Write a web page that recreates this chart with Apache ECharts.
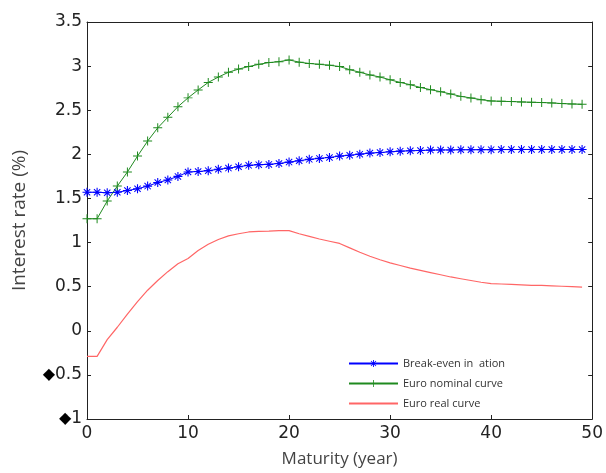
<!DOCTYPE html>
<html>
<head>
<meta charset="utf-8">
<script src="https://cdn.jsdelivr.net/npm/echarts@6/dist/echarts.min.js"></script>
<style>html,body{margin:0;padding:0;background:#fff;}#c{width:606px;height:473px;}</style>
</head>
<body>
<div id="c"></div>
<script>
const years = [0,1,2,3,4,5,6,7,8,9,10,11,12,13,14,15,16,17,18,19,20,21,22,23,24,25,26,27,28,29,30,31,32,33,34,35,36,37,38,39,40,41,42,43,44,45,46,47,48,49];
const breakEven = [1.57,1.57,1.565,1.57,1.59,1.61,1.64,1.68,1.71,1.75,1.80,1.805,1.815,1.83,1.844,1.86,1.875,1.883,1.886,1.897,1.912,1.928,1.943,1.954,1.965,1.98,1.99,2.002,2.014,2.02,2.029,2.036,2.04,2.044,2.048,2.05,2.05,2.052,2.052,2.053,2.053,2.054,2.054,2.055,2.055,2.055,2.055,2.055,2.055,2.055];
const nominal = [1.27,1.27,1.47,1.64,1.80,1.98,2.15,2.30,2.42,2.54,2.64,2.73,2.815,2.876,2.93,2.966,2.995,3.02,3.04,3.05,3.07,3.045,3.03,3.02,3.01,2.995,2.96,2.93,2.90,2.876,2.845,2.815,2.789,2.758,2.733,2.71,2.684,2.657,2.639,2.62,2.605,2.601,2.598,2.594,2.59,2.587,2.583,2.575,2.571,2.567];
const real = [-0.29,-0.29,-0.1,0.04,0.19,0.33,0.46,0.57,0.67,0.76,0.82,0.91,0.98,1.035,1.075,1.10,1.12,1.127,1.13,1.135,1.135,1.10,1.07,1.04,1.015,0.99,0.94,0.89,0.845,0.805,0.77,0.74,0.71,0.685,0.66,0.635,0.61,0.59,0.57,0.55,0.535,0.53,0.525,0.52,0.515,0.515,0.51,0.505,0.5,0.495];
const seriesNames = ['Break-even in  ation','Euro nominal curve','Euro real curve'];
const xTicks = {min:0,max:50,interval:10};
const yTicks = {min:-1,max:3.5,interval:0.5};

const pair = arr => years.map((x,i)=>[x,arr[i]]);
const asterisk = 'path://M-0.6,-5L0.6,-5L0.6,5L-0.6,5Z M-5,-0.6L5,-0.6L5,0.6L-5,0.6Z M-3.9,-3.1L-3.1,-3.9L3.9,3.1L3.1,3.9Z M3.1,-3.9L3.9,-3.1L-3.1,3.9L-3.9,3.1Z';
const plus = 'path://M-0.55,-5L0.55,-5L0.55,5L-0.55,5Z M-5,-0.55L5,-0.55L5,0.55L-5,0.55Z';
const font = 'DejaVu Sans';
const axisLine = {show:true,onZero:false,lineStyle:{color:'#222',width:1}};
const tick = {show:true,inside:true,length:4,lineStyle:{color:'#222',width:1}};

const chart = echarts.init(document.getElementById('c'));
chart.setOption({
  animation:false,
  backgroundColor:'#fff',
  grid:{left:87,right:12,top:22,bottom:52},
  legend:{
    orient:'vertical',left:343,top:353,itemWidth:49,itemHeight:9,itemGap:9,
    textStyle:{fontFamily:'Open Sans',fontSize:11,color:'#333'},
    data:[seriesNames[0],seriesNames[1],{name:seriesNames[2],itemStyle:{opacity:0}}]
  },
  xAxis:[
    {type:'value',min:xTicks.min,max:xTicks.max,interval:xTicks.interval,position:'bottom',
     axisLine:axisLine,axisTick:tick,splitLine:{show:false},
     axisLabel:{fontFamily:font,fontSize:17,color:'#222',margin:6},
     name:'Maturity (year)',nameLocation:'middle',nameGap:32,
     nameTextStyle:{fontFamily:'Open Sans',fontSize:17,color:'#444'}},
    {type:'value',min:xTicks.min,max:xTicks.max,interval:xTicks.interval,position:'top',
     axisLine:axisLine,axisTick:tick,splitLine:{show:false},axisLabel:{show:false}}
  ],
  yAxis:[
    {type:'value',min:yTicks.min,max:yTicks.max,interval:yTicks.interval,position:'left',
     axisLine:axisLine,axisTick:tick,splitLine:{show:false},
     axisLabel:{fontFamily:font,fontSize:17,color:'#222',margin:5,
       formatter:v=> v<0 ? '{d|◆}'+String(Math.abs(v)) : String(v),
       rich:{d:{fontFamily:font,fontSize:16,color:'#000'}}},
     name:'Interest rate (%)',nameLocation:'middle',nameGap:58,nameRotate:90,
     nameTextStyle:{fontFamily:'Open Sans',fontSize:19,color:'#444'}},
    {type:'value',min:yTicks.min,max:yTicks.max,interval:yTicks.interval,position:'right',
     axisLine:axisLine,axisTick:tick,splitLine:{show:false},axisLabel:{show:false}}
  ],
  series:[
    {name:seriesNames[0],type:'line',data:pair(breakEven),symbol:asterisk,symbolSize:9,showAllSymbol:true,
     lineStyle:{color:'#0000ff',width:1},itemStyle:{color:'#0000ff'},color:'#0000ff'},
    {name:seriesNames[1],type:'line',data:pair(nominal),symbol:plus,symbolSize:9,showAllSymbol:true,
     lineStyle:{color:'#1f8a1f',width:1},itemStyle:{color:'#1f8a1f'},color:'#1f8a1f'},
    {name:seriesNames[2],type:'line',data:pair(real),symbol:'none',
     lineStyle:{color:'#ff6666',width:1.2},itemStyle:{color:'#ff6666'},color:'#ff6666'}
  ]
});
</script>
</body>
</html>
